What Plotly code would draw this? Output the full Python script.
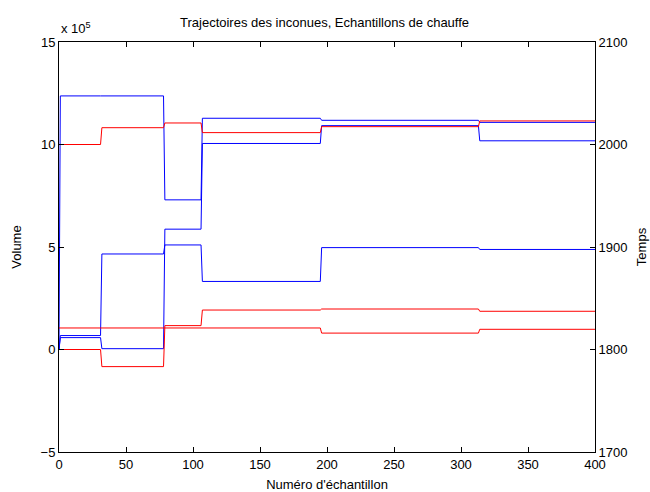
import plotly.graph_objects as go

# Segment boundaries (sample index) and per-segment levels
breaks = [0, 31, 78, 106, 195, 313, 400]

# Volume curves (x 10^5), one level per segment; each starts at 0 at sample 0
vol_start = 0.0
vol_1 = [12.37, 12.37, 7.30, 11.28, 11.18, 11.08]
vol_2 = [0.68, 4.66, 5.10, 3.32, 4.97, 4.88]
vol_3 = [0.58, 0.04, 5.87, 10.05, 10.92, 10.18]

# Temperature curves, one level per segment
temp_1 = [2000.0, 2016.4, 2021.0, 2011.6, 2017.4, 2023.0]
temp_2 = [1800.0, 1783.3, 1823.3, 1838.5, 1839.5, 1837.3]
temp_3 = [1821.0, 1821.0, 1821.0, 1821.0, 1816.0, 1819.7]

x_ticks = [0, 50, 100, 150, 200, 250, 300, 350, 400]
y_ticks = [-5, 0, 5, 10, 15]
y2_ticks = [1700, 1800, 1900, 2000, 2100]


def step_points(levels, start=None):
    xs, ys = [], []
    if start is not None:
        xs.append(breaks[0]); ys.append(start)
        xs.append(breaks[0] + 1); ys.append(levels[0])
    else:
        xs.append(breaks[0]); ys.append(levels[0])
    for i in range(1, len(levels)):
        b = breaks[i]
        xs.append(b); ys.append(levels[i - 1])
        xs.append(b + 1); ys.append(levels[i])
    xs.append(breaks[-1]); ys.append(levels[-1])
    return xs, ys


fig = go.Figure()
for lv in (vol_1, vol_2, vol_3):
    xs, ys = step_points(lv, vol_start)
    fig.add_trace(go.Scatter(x=xs, y=ys, mode="lines",
                             line=dict(color="#0000FF", width=1),
                             showlegend=False, yaxis="y"))
for lv in (temp_1, temp_2, temp_3):
    xs, ys = step_points(lv)
    fig.add_trace(go.Scatter(x=xs, y=ys, mode="lines",
                             line=dict(color="#FF0000", width=1),
                             showlegend=False, yaxis="y2"))

FAM = "Liberation Sans, Arial, sans-serif"
font = dict(family=FAM, size=13, color="black")

common = dict(ticks="inside", ticklen=5, tickcolor="black", showline=True,
              linecolor="black", linewidth=1, showgrid=False, zeroline=False,
              automargin=False, tickfont=font)

fig.update_layout(
    width=650, height=492,
    margin=dict(l=59, r=55, t=42, b=40),
    paper_bgcolor="white", plot_bgcolor="white",
    font=font,
    showlegend=False,
    xaxis=dict(range=[0, 400], tickvals=x_ticks, mirror="ticks",
               title=dict(text="Numéro d'échantillon", standoff=9, font=font),
               **common),
    yaxis=dict(range=[-5, 15], tickvals=y_ticks,
               title=dict(text="Volume", standoff=16, font=font),
               **common),
    yaxis2=dict(range=[1700, 2100], tickvals=y2_ticks, overlaying="y", side="right",
                title=dict(text="Temps", standoff=10, font=font),
                **common),
    annotations=[
        dict(text="Trajectoires des inconues, Echantillons de chauffe",
             xref="paper", yref="paper", x=0.496, y=1.0, yshift=20,
             xanchor="center", yanchor="middle", showarrow=False, font=font),
        dict(text="x 10<sup>5</sup>", xref="paper", yref="paper",
             x=0.0, y=1.0, yshift=14, xanchor="left", yanchor="middle",
             showarrow=False, font=font),
    ],
)

fig.write_html("out.html", config={"displayModeBar": False},
               post_script="document.body.style.margin='0';document.body.style.padding='0';")
